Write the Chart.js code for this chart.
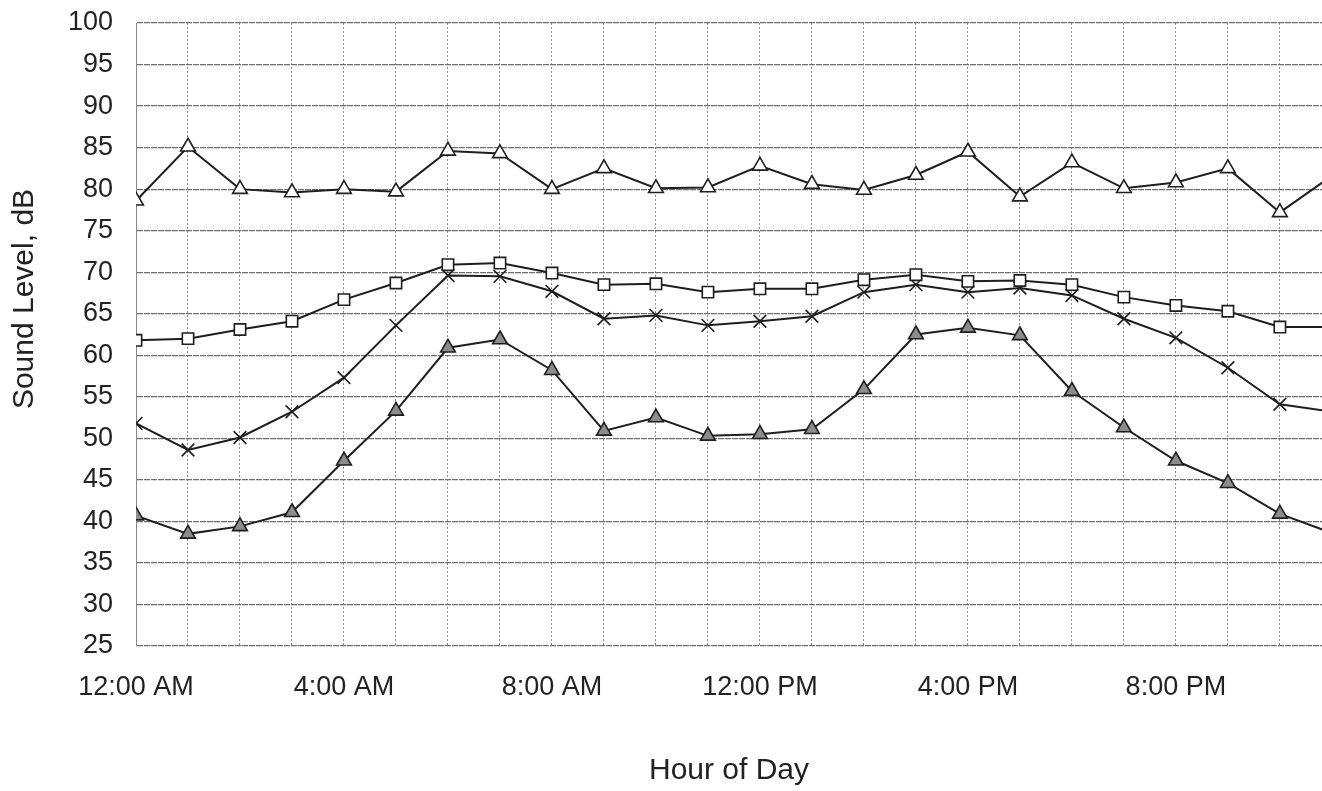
<!DOCTYPE html>
<html>
<head>
<meta charset="utf-8">
<script src="https://cdn.jsdelivr.net/npm/chart.js@4"></script>
<style>
  html, body { margin: 0; padding: 0; background: #fff; }
  #wrap { width: 1322px; height: 791px; position: relative; }
</style>
</head>
<body>
<div id="wrap"><canvas id="soundChart"></canvas></div>
<script>
    // Horas del día (0 = medianoche), la hora 23 queda cortada en el borde derecho
    const hours = [0, 1, 2, 3, 4, 5, 6, 7, 8, 9, 10, 11, 12, 13, 14, 15, 16, 17, 18, 19, 20, 21, 22, 23];
    const tickHours = [0, 4, 8, 12, 16, 20];
    const tickLabels = ['12:00 AM', '4:00 AM', '8:00 AM', '12:00 PM', '4:00 PM', '8:00 PM'];

    // Niveles de sonido (dB)
    const levelMax = [78.6, 85.1, 80.0, 79.6, 80.0, 79.7, 84.6, 84.3, 80.0, 82.5, 80.1, 80.2,
                      82.8, 80.6, 79.9, 81.7, 84.5, 79.1, 83.2, 80.1, 80.8, 82.5, 77.2, 81.6];
    const levelLeq = [61.8, 62.0, 63.1, 64.1, 66.7, 68.7, 70.9, 71.1, 69.9, 68.5, 68.6, 67.6,
                      68.0, 68.0, 69.1, 69.7, 68.9, 69.0, 68.5, 67.0, 66.0, 65.3, 63.4, 63.4];
    const levelL50 = [51.8, 48.6, 50.1, 53.2, 57.3, 63.6, 69.6, 69.5, 67.7, 64.4, 64.8, 63.6,
                      64.1, 64.7, 67.6, 68.5, 67.6, 68.1, 67.2, 64.4, 62.1, 58.5, 54.1, 53.2];
    const levelMin = [40.7, 38.5, 39.4, 41.1, 47.3, 53.3, 60.9, 61.9, 58.2, 50.9, 52.5, 50.3,
                      50.5, 51.1, 55.9, 62.5, 63.3, 62.4, 55.7, 51.3, 47.3, 44.6, 40.9, 38.6];

    const toPoints = (values) => values.map((v, i) => ({ x: hours[i], y: v }));

    const baseFont = { family: '"Liberation Sans", Arial, sans-serif', size: 27 };
    const lineColor = '#1e1e1e';

    // Título del eje Y dibujado a mano para ubicarlo como en el original
    const yTitlePlugin = {
        id: 'yTitle',
        afterDraw(chart) {
            const ctx = chart.ctx;
            ctx.save();
            ctx.translate(25, 299);
            ctx.rotate(-Math.PI / 2);
            ctx.font = '30px "Liberation Sans", Arial, sans-serif';
            ctx.fillStyle = '#222';
            ctx.textAlign = 'center';
            ctx.textBaseline = 'middle';
            ctx.fillText('Sound Level, dB', 0, 0);
            ctx.restore();
        }
    };

    function lineSet(label, values, style, radius, fill) {
        return {
            label: label,
            data: toPoints(values),
            borderColor: lineColor,
            borderWidth: 2,
            pointStyle: style,
            pointRadius: radius,
            pointBackgroundColor: fill,
            pointBorderColor: lineColor,
            pointBorderWidth: 1.6
        };
    }

    const ctx = document.getElementById('soundChart').getContext('2d');
    const soundChart = new Chart(ctx, {
        type: 'line',
        data: {
            datasets: [
                lineSet('Max', levelMax, 'triangle', 8.5, '#fff'),
                lineSet('Leq', levelLeq, 'rect', 8, '#fff'),
                lineSet('L50', levelL50, 'crossRot', 9, '#fff'),
                lineSet('Min', levelMin, 'triangle', 8.5, '#8c8c8c')
            ]
        },
        options: {
            responsive: true,
            maintainAspectRatio: false,
            animation: false,
            layout: { autoPadding: false, padding: { top: 23, right: 0, bottom: 0, left: 0 } },
            plugins: {
                legend: { display: false },
                tooltip: { enabled: false }
            },
            elements: { line: { tension: 0 } },
            scales: {
                x: {
                    type: 'linear',
                    min: 0,
                    max: 22.81,
                    afterBuildTicks: (scale) => {
                        scale.ticks = hours.slice(0, 23).map(h => ({ value: h }));
                    },
                    afterFit: (scale) => {
                        scale.height = 145;
                        scale.paddingLeft = 0;
                        scale.paddingRight = 0;
                    },
                    ticks: {
                        autoSkip: false,
                        maxRotation: 0,
                        padding: 25,
                        color: '#222',
                        font: baseFont,
                        callback: (value) => {
                            const i = tickHours.indexOf(value);
                            return i >= 0 ? tickLabels[i] : '';
                        }
                    },
                    grid: {
                        color: '#8a8a8a',
                        lineWidth: 1,
                        drawTicks: false
                    },
                    border: { display: false, dash: [2, 2] },
                    title: {
                        display: true,
                        text: 'Hour of Day',
                        color: '#222',
                        font: { family: baseFont.family, size: 30 },
                        padding: { top: 0, bottom: 2 }
                    }
                },
                y: {
                    min: 25,
                    max: 100,
                    afterFit: (scale) => {
                        scale.width = 136;
                        scale.paddingTop = 0;
                        scale.paddingBottom = 0;
                    },
                    ticks: {
                        stepSize: 5,
                        padding: 23,
                        color: '#222',
                        font: baseFont
                    },
                    grid: {
                        color: '#6e6e6e',
                        lineWidth: 1.2,
                        drawTicks: false
                    },
                    border: { color: '#888', dash: [6, 1] }
                }
            }
        },
        plugins: [yTitlePlugin]
    });
</script>
</body>
</html>
